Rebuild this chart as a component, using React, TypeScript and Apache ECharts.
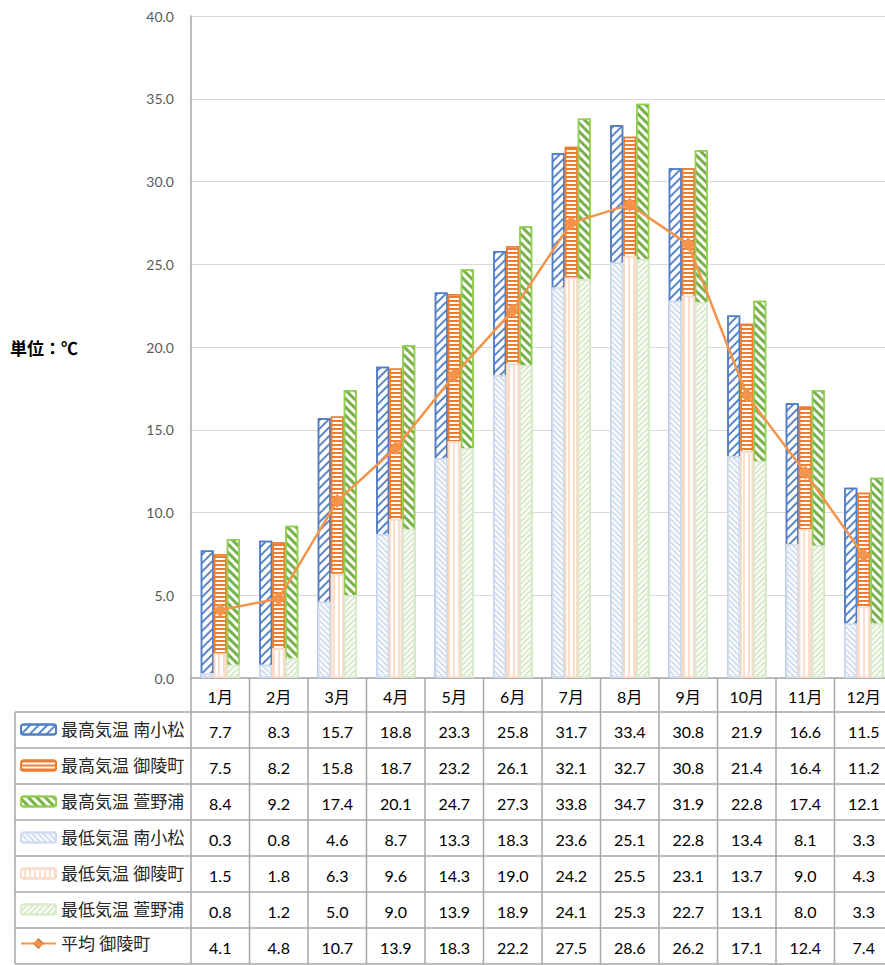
import React, { useEffect, useRef } from 'react';
import * as echarts from 'echarts';

const months = ['1月', '2月', '3月', '4月', '5月', '6月', '7月', '8月', '9月', '10月', '11月', '12月'];
const maxMinamikomatsu = [7.7, 8.3, 15.7, 18.8, 23.3, 25.8, 31.7, 33.4, 30.8, 21.9, 16.6, 11.5];
const maxGoryocho = [7.5, 8.2, 15.8, 18.7, 23.2, 26.1, 32.1, 32.7, 30.8, 21.4, 16.4, 11.2];
const maxKayanoura = [8.4, 9.2, 17.4, 20.1, 24.7, 27.3, 33.8, 34.7, 31.9, 22.8, 17.4, 12.1];
const minMinamikomatsu = [0.3, 0.8, 4.6, 8.7, 13.3, 18.3, 23.6, 25.1, 22.8, 13.4, 8.1, 3.3];
const minGoryocho = [1.5, 1.8, 6.3, 9.6, 14.3, 19.0, 24.2, 25.5, 23.1, 13.7, 9.0, 4.3];
const minKayanoura = [0.8, 1.2, 5.0, 9.0, 13.9, 18.9, 24.1, 25.3, 22.7, 13.1, 8.0, 3.3];
const avgGoryocho = [4.1, 4.8, 10.7, 13.9, 18.3, 22.2, 27.5, 28.6, 26.2, 17.1, 12.4, 7.4];
const seriesNames = [
  '最高気温 南小松',
  '最高気温 御陵町',
  '最高気温 萱野浦',
  '最低気温 南小松',
  '最低気温 御陵町',
  '最低気温 萱野浦',
  '平均 御陵町',
];
const unitLabel = '単位：℃';

const FONT = "Lato, 'Noto Sans CJK JP', sans-serif";

export default function App() {
  const ref = useRef<HTMLDivElement>(null);
  useEffect(() => {
    const chart = echarts.init(ref.current!, null, { renderer: 'svg' });
    const W = 900;
    const H = 965;
    const plotL = 191;
    const plotR = 893;
    const plotT = 16;
    const plotB = 678;
    const rowTop = 712;
    const rowH = 36;
    const tableL = 15;
    const gridColor = '#A6A6A6';

    const stripe = (color: string, rotation: number, line: number, gap: number) => ({
      symbol: 'rect',
      symbolSize: 1,
      dashArrayX: [1, 0],
      dashArrayY: [line, gap],
      rotation,
      color,
    });

    const barCommon = {
      type: 'bar',
      barWidth: 13,
      barGap: '0%',
      barCategoryGap: '28%',
    };

    const styles = [
      { border: '#4F7EC4', decal: stripe('#5A86C8', -Math.PI / 4, 1.1, 3.3) },
      { border: '#ED7D31', decal: stripe('#ED7D31', 0, 2, 1.2) },
      { border: '#92D050', decal: stripe('#78B04A', Math.PI / 4, 2.2, 2.3) },
      { border: '#CFDBEF', decal: stripe('#D2DDF0', Math.PI / 4, 2, 2) },
      { border: '#FADBC7', decal: stripe('#FBDECB', Math.PI / 2, 2, 2.5) },
      { border: '#DCEACF', decal: stripe('#D9E9CA', -Math.PI / 4, 2, 2) },
    ];
    const barData = [maxMinamikomatsu, maxGoryocho, maxKayanoura, minMinamikomatsu, minGoryocho, minKayanoura];

    const barSeries = barData.map((d, i) => ({
      ...barCommon,
      name: seriesNames[i],
      xAxisIndex: i < 3 ? 0 : 1,
      z: i < 3 ? 2 : 3,
      data: d,
      itemStyle: {
        color: '#FFFFFF',
        borderColor: styles[i].border,
        borderWidth: 1.5,
        decal: styles[i].decal,
      },
    }));

    const lineSeries = {
      type: 'line',
      name: seriesNames[6],
      xAxisIndex: 0,
      z: 6,
      data: avgGoryocho,
      symbol: 'diamond',
      symbolSize: 14,
      color: '#F4944B',
      lineStyle: { color: '#F4944B', width: 2.5 },
      itemStyle: { color: '#F4944B' },
    };

    const legends = seriesNames.map((n, r) => ({
      data: [n],
      orient: 'horizontal',
      left: 20,
      top: rowTop + rowH * r + (r === 6 ? 7 : 9),
      padding: 0,
      itemWidth: 35,
      itemHeight: r === 6 ? 14 : 10,
      selectedMode: false,
      textStyle: { fontSize: 17, color: '#262626', fontFamily: FONT },
    }));

    chart.setOption({
      animation: false,
      backgroundColor: '#FFFFFF',
      aria: { enabled: true, label: { enabled: false }, decal: { show: true } },
      grid: { left: plotL, right: W - plotR, top: plotT, bottom: H - plotB, containLabel: false },
      legend: legends,
      xAxis: [
        {
          type: 'category',
          data: months,
          axisLine: { show: true, lineStyle: { color: gridColor, width: 1.5 } },
          axisTick: { show: false },
          axisLabel: { margin: 10, fontSize: 16, color: '#000000', fontFamily: FONT },
        },
        {
          type: 'category',
          data: months,
          show: false,
        },
      ],
      yAxis: {
        type: 'value',
        min: 0,
        max: 40,
        interval: 5,
        axisLine: { show: true, lineStyle: { color: gridColor, width: 1.5 } },
        axisTick: { show: false },
        splitLine: { lineStyle: { color: '#D9D9D9', width: 1 } },
        axisLabel: {
          margin: 17,
          fontSize: 14,
          color: '#595959',
          fontFamily: FONT,
          formatter: (v: number) => v.toFixed(1),
        },
      },
      series: [...barSeries, lineSeries],
    });

    const centers = months.map((m) => chart.convertToPixel({ xAxisIndex: 0 }, m) as number);
    const colW = centers.length > 1 ? centers[1] - centers[0] : 58.5;
    const lineStyle = { stroke: gridColor, lineWidth: 1.5 };
    const graphics: any[] = [];
    const rowsData = [...barData, avgGoryocho];
    const nRows = rowsData.length;
    const tableBottom = rowTop + rowH * nRows;

    for (let r = 0; r <= nRows; r++) {
      graphics.push({
        type: 'line',
        shape: { x1: tableL, y1: rowTop + rowH * r, x2: W, y2: rowTop + rowH * r },
        style: lineStyle,
        z: 10,
      });
    }
    graphics.push({ type: 'line', shape: { x1: tableL, y1: rowTop, x2: tableL, y2: tableBottom }, style: lineStyle, z: 10 });
    for (let i = 0; i <= months.length; i++) {
      const x = centers[0] - colW / 2 + colW * i;
      graphics.push({ type: 'line', shape: { x1: x, y1: plotB, x2: x, y2: tableBottom }, style: lineStyle, z: 10 });
    }
    rowsData.forEach((row, r) => {
      row.forEach((v, i) => {
        graphics.push({
          type: 'text',
          x: centers[i],
          y: rowTop + rowH * r + rowH / 2 + 1,
          style: {
            text: v.toFixed(1),
            fontSize: 16,
            fontFamily: FONT,
            fill: '#000000',
            align: 'center',
            verticalAlign: 'middle',
          },
          z: 10,
        });
      });
    });
    graphics.push({
      type: 'text',
      x: 10,
      y: 347,
      style: {
        text: unitLabel,
        fontSize: 17,
        fontWeight: 'bold',
        fontFamily: "'Noto Sans CJK JP', sans-serif",
        fill: '#000000',
        align: 'left',
        verticalAlign: 'middle',
      },
    });
    chart.setOption({ graphic: graphics });

    return () => chart.dispose();
  }, []);
  return (
    <div style={{ position: 'fixed', left: 0, top: 0, width: 885, height: 965, overflow: 'hidden', background: '#fff' }}>
      <div ref={ref} style={{ width: 900, height: 965 }} />
    </div>
  );
}
